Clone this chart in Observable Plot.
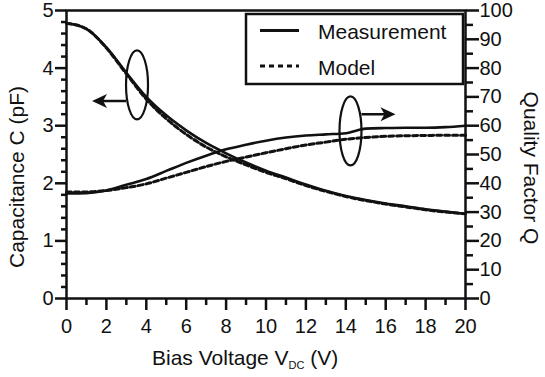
<!DOCTYPE html>
<html><head><meta charset="utf-8">
<script src="https://cdn.jsdelivr.net/npm/d3@7"></script>
<script src="https://cdn.jsdelivr.net/npm/@observablehq/plot@0.6"></script>
<style>
html,body{margin:0;padding:0;background:#fff}
#chart svg{display:block}
</style>
</head><body><div id="chart"></div>
<script>
// ---- data ----
const voltage     = [0,1,2,3,4,5,6,7,8,9,10,11,12,13,14,15,16,17,18,19,20];
const capMeasured = [4.78,4.68,4.36,3.92,3.50,3.18,2.92,2.70,2.52,2.36,2.22,2.10,1.98,1.87,1.78,1.71,1.65,1.60,1.55,1.51,1.47];
const capModel    = [4.78,4.68,4.35,3.90,3.46,3.12,2.85,2.63,2.46,2.32,2.19,2.08,1.96,1.86,1.77,1.70,1.64,1.59,1.54,1.50,1.47];
const qMeasured   = [36.5,36.6,37.5,39.5,41.5,44.3,47.1,49.6,51.8,53.4,54.8,55.9,56.6,57.0,57.4,59.0,59.2,59.3,59.3,59.5,60.0];
const qModel      = [37.0,37.0,37.5,38.5,39.8,41.8,43.8,45.8,47.6,49.1,50.6,52.0,53.3,54.3,55.3,55.9,56.3,56.5,56.6,56.7,56.7];
const xMajorTicks = [0,2,4,6,8,10,12,14,16,18,20];
const capTicks    = [0,1,2,3,4,5];
const qTicks      = [0,10,20,30,40,50,60,70,80,90,100];
const seriesLabels = ["Measurement","Model"];
const xTitle   = ["Bias Voltage V","DC"," (V)"];
const capTitle = "Capacitance C (pF)";
const qTitle   = "Quality Factor Q";

const Q_PER_PF = 20; // right axis 0..100 maps onto left axis 0..5
const FONT = "'Liberation Sans', Arial, sans-serif";
const INK = "#111";

const measuredRows = voltage.flatMap((v,i)=>[
  {v, y: capMeasured[i], curve: "C"},
  {v, y: qMeasured[i] / Q_PER_PF, curve: "Q"}
]);
const modelRows = voltage.flatMap((v,i)=>[
  {v, y: capModel[i], curve: "C"},
  {v, y: qModel[i] / Q_PER_PF, curve: "Q"}
]);

const xMinor = d3.range(1,20,2);
const capMinor = d3.range(0,25).map(i=>i*0.2).filter(d=>Math.abs(d-Math.round(d))>1e-6);
const qMinor = d3.range(5,100,10).map(q=>q/Q_PER_PF);

// annotation: ellipses with arrows (data coordinates of ellipse centre)
const notes = [
  {x: 3.56, y: 3.70, dir: -1, ay: 3.42},
  {x: 14.26, y: 2.90, dir: 1, ay: 3.19}
];

function annotations(index, scales, values, dims) {
  const g = d3.create("svg:g").attr("fill","none").attr("stroke",INK);
  for (const n of notes) {
    const cx = scales.x(n.x), cy = scales.y(n.y);
    const rx = 11, ry = 34.5;
    g.append("ellipse").attr("cx",cx).attr("cy",cy).attr("rx",rx).attr("ry",ry).attr("stroke-width",2.2);
    const ay = scales.y(n.ay);
    const x0 = cx + n.dir*rx, x1 = cx + n.dir*(rx+34);
    g.append("line").attr("x1",x0).attr("x2",x1 - n.dir*8).attr("y1",ay).attr("y2",ay).attr("stroke-width",2.5);
    g.append("path").attr("fill",INK).attr("stroke","none")
      .attr("d",`M${x1},${ay} L${x1-n.dir*15},${ay-7} L${x1-n.dir*11},${ay} L${x1-n.dir*15},${ay+7} Z`);
  }
  return g.node();
}

function legend(index, scales, values, dims) {
  const g = d3.create("svg:g").attr("text-anchor","start");
  const L = 66;
  g.append("rect").attr("x",L+180).attr("y",14).attr("width",217).attr("height",70)
    .attr("fill","#fff").attr("stroke",INK).attr("stroke-width",2.5);
  g.append("line").attr("x1",L+194).attr("x2",L+233).attr("y1",30.5).attr("y2",30.5)
    .attr("stroke",INK).attr("stroke-width",3);
  g.append("line").attr("x1",L+194).attr("x2",L+233).attr("y1",66).attr("y2",66)
    .attr("stroke",INK).attr("stroke-width",3).attr("stroke-dasharray","5,4");
  g.append("text").attr("x",L+252).attr("y",38.5).attr("fill",INK).attr("font-size",21).text(seriesLabels[0]);
  g.append("text").attr("x",L+252).attr("y",75).attr("fill",INK).attr("font-size",21).text(seriesLabels[1]);
  return g.node();
}

function titles(index, scales, values, dims) {
  const g = d3.create("svg:g").attr("fill",INK).attr("font-size",21);
  const t = g.append("text").attr("x",152).attr("y",365).attr("text-anchor","start");
  t.append("tspan").text(xTitle[0]);
  t.append("tspan").attr("font-size",11).attr("dy",4).text(xTitle[1]);
  t.append("tspan").attr("dy",-4).text(xTitle[2]);
  g.append("text").attr("transform","translate(24,177) rotate(-90)").attr("text-anchor","middle").text(capTitle);
  g.append("text").attr("transform","translate(524,168) rotate(90)").attr("text-anchor","middle").text(qTitle);
  return g.node();
}

const chart = Plot.plot({
  width: 545, height: 377,
  marginLeft: 66, marginRight: 80, marginTop: 10, marginBottom: 79,
  style: {fontFamily: FONT, fontSize: "20px", color: INK, background: "#fff"},
  x: {domain: [0,20]},
  y: {domain: [0,5]},
  marks: [
    Plot.line(modelRows, {x:"v", y:"y", z:"curve", stroke: INK, strokeWidth: 3, strokeDasharray: "5,3", curve: "monotone-x"}),
    Plot.line(measuredRows, {x:"v", y:"y", z:"curve", stroke: INK, strokeWidth: 2.6, curve: "monotone-x"}),
    Plot.axisX(xMinor, {tickSize: 7, tickFormat: () => "", strokeWidth: 2.5, label: null}),
    Plot.axisX(xMajorTicks, {tickSize: 12, tickPadding: 8, strokeWidth: 2.5, label: null, tickFormat: d => String(d)}),
    Plot.axisY(capMinor, {anchor: "left", tickSize: 5, tickFormat: () => "", strokeWidth: 2.5, label: null}),
    Plot.axisY(capTicks, {anchor: "left", tickSize: 11, tickPadding: 2, strokeWidth: 2.5, label: null, tickFormat: d => String(d)}),
    Plot.axisY(qMinor, {anchor: "right", tickSize: 7, tickFormat: () => "", strokeWidth: 2.5, label: null}),
    Plot.axisY(qTicks.map(q=>q/Q_PER_PF), {anchor: "right", tickSize: 13, tickPadding: 1, strokeWidth: 2.5, label: null,
      tickFormat: d => String(Math.round(d*Q_PER_PF))}),
    Plot.frame({stroke: INK, strokeWidth: 2.5}),
    legend,
    annotations,
    titles
  ]
});
document.getElementById("chart").append(chart);
</script>
</body></html>
